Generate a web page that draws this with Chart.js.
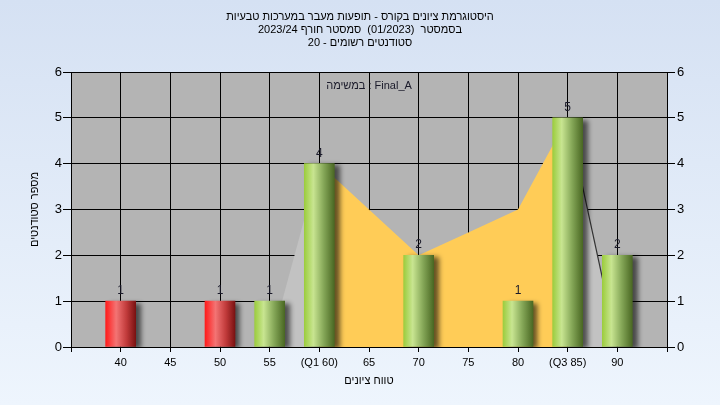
<!DOCTYPE html>
<html>
<head>
<meta charset="utf-8">
<script src="https://cdn.jsdelivr.net/npm/chart.js@4.4.1/dist/chart.umd.min.js"></script>
<style>
  html, body { margin: 0; padding: 0; }
  body { width: 720px; height: 405px; background: linear-gradient(to bottom, #d5e1f3, #eef5fd); }
  #wrap { position: relative; width: 720px; height: 405px; }
</style>
</head>
<body>
<div id="wrap"><canvas id="hist"></canvas></div>
<script>
// histogram data
const barGrades = [40, 50, 55, 60, 70, 80, 85, 90]
const barCounts = [1, 1, 1, 4, 2, 1, 5, 2]
const passGrade = 55

// distribution curve behind the bars
const curveGrades = [55, 60, 65, 70, 75, 80, 85, 90]
const curveValues = [0, 4, 3, 2, 2.5, 3, 5, 0]
const q1 = 60
const q3 = 85

const xTicks = [40, 45, 50, 55, 60, 65, 70, 75, 80, 85, 90]
const xTickLabels = ['40', '45', '50', '55', '(Q1 60)', '65', '70', '75', '80', '(Q3 85)', '90']

const titleLines = [
  'היסטוגרמת ציונים בקורס - תופעות מעבר במערכות טבעיות',
  'בסמסטר  (01/2023)  סמסטר חורף 2023/24',
  'סטודנטים רשומים - 20'
]
const taskLabel = 'במשימה : Final_A'

const FONT = '"Liberation Sans", Arial, sans-serif'

const pts = (xs, ys, keep) => xs.map((x, i) => ({x: x, y: ys[i]})).filter(p => keep(p.x))

const barColor = (ctx) => {
  const chart = ctx.chart
  if (!chart.chartArea || !ctx.parsed) return '#9fcf40'
  const cx = chart.scales.x.getPixelForValue(ctx.parsed.x)
  const g = chart.ctx.createLinearGradient(cx - 15, 0, cx + 15, 0)
  if (ctx.parsed.x < passGrade) {
    g.addColorStop(0, '#ff1c1c')
    g.addColorStop(0.35, '#f37474')
    g.addColorStop(0.7, '#c03a3a')
    g.addColorStop(1, '#7a1212')
  } else {
    g.addColorStop(0, '#9ccd3e')
    g.addColorStop(0.3, '#c8e591')
    g.addColorStop(0.65, '#84a657')
    g.addColorStop(1, '#4a6823')
  }
  return g
}

const plotBg = {
  id: 'plotBg',
  beforeDraw(chart) {
    const {ctx, chartArea: a} = chart
    ctx.save()
    ctx.fillStyle = '#b4b4b4'
    ctx.fillRect(a.left, a.top, a.right - a.left, a.bottom - a.top)
    ctx.restore()
  }
}

const barShadow = {
  id: 'barShadow',
  beforeDatasetDraw(chart, args) {
    if (args.meta.type !== 'bar') return
    const ctx = chart.ctx
    ctx.save()
    ctx.shadowColor = 'rgba(0,0,0,0.6)'
    ctx.shadowOffsetX = 5
    ctx.shadowOffsetY = 2
    ctx.shadowBlur = 5
  },
  afterDatasetDraw(chart, args) {
    if (args.meta.type !== 'bar') return
    chart.ctx.restore()
  }
}

const labels = {
  id: 'labels',
  afterDatasetsDraw(chart) {
    const ctx = chart.ctx
    const a = chart.chartArea
    ctx.save()
    ctx.fillStyle = '#1a1a2a'
    ctx.font = '12px ' + FONT
    ctx.textAlign = 'center'
    ctx.textBaseline = 'alphabetic'
    chart.data.datasets.forEach((ds, i) => {
      const meta = chart.getDatasetMeta(i)
      if (meta.type !== 'bar') return
      meta.data.forEach((bar, j) => {
        ctx.fillText(String(barCounts[j]), bar.x, bar.y - 7)
      })
    })
    ctx.font = '11px ' + FONT
    ctx.textBaseline = 'middle'
    ctx.fillText(taskLabel, (a.left + a.right) / 2, a.top + 14)
    ctx.restore()
  }
}

new Chart(document.getElementById('hist'), {
  type: 'bar',
  data: {
    datasets: [
      {
        type: 'bar',
        data: pts(barGrades, barCounts, () => true),
        backgroundColor: barColor,
        borderWidth: 0,
        barThickness: 30,
        yAxisID: 'y',
        order: 0
      },
      {
        type: 'line',
        data: pts(curveGrades, curveValues, x => x >= q1 && x <= q3),
        backgroundColor: '#ffcc57',
        borderWidth: 0,
        pointRadius: 0,
        fill: 'origin',
        tension: 0,
        yAxisID: 'y',
        order: 1
      },
      {
        type: 'line',
        data: pts(curveGrades, curveValues, x => x <= q1),
        backgroundColor: '#c2c2c2',
        borderWidth: 0,
        pointRadius: 0,
        fill: 'origin',
        tension: 0,
        yAxisID: 'y',
        order: 1
      },
      {
        type: 'line',
        data: pts(curveGrades, curveValues, x => x >= q3),
        backgroundColor: '#c2c2c2',
        borderColor: '#333333',
        borderWidth: 1.2,
        pointRadius: 0,
        fill: 'origin',
        tension: 0,
        yAxisID: 'y',
        order: 1
      }
    ]
  },
  options: {
    responsive: true,
    maintainAspectRatio: false,
    animation: false,
    layout: {padding: 0},
    plugins: {
      legend: {display: false},
      tooltip: {enabled: false},
      title: {
        display: true,
        text: titleLines,
        color: '#000',
        font: {family: FONT, size: 11, weight: 'normal', lineHeight: 1.2},
        padding: {top: 10, bottom: 22.4}
      }
    },
    scales: {
      x: {
        type: 'linear',
        min: 35,
        max: 95,
        offset: false,
        afterFit: s => { s.height = 58 },
        ticks: {
          stepSize: 5,
          autoSkip: false,
          maxRotation: 0,
          padding: 4,
          color: '#000',
          font: {family: FONT, size: 11},
          callback: v => {
            const i = xTicks.indexOf(v)
            return i < 0 ? '' : xTickLabels[i]
          }
        },
        grid: {color: '#000', tickColor: '#000', tickLength: 5, offset: false},
        border: {color: '#000'},
        title: {
          display: true,
          text: 'טווח ציונים',
          color: '#000',
          font: {family: FONT, size: 11},
          padding: {top: 4, bottom: 17}
        }
      },
      y: {
        position: 'left',
        min: 0,
        max: 6,
        afterFit: s => { s.width = 71 },
        ticks: {stepSize: 1, padding: 1, color: '#000', font: {family: FONT, size: 13}},
        grid: {color: '#000', tickColor: '#000', tickLength: 8},
        border: {color: '#000'},
        title: {
          display: true,
          text: 'מספר סטודנטים',
          color: '#000',
          font: {family: FONT, size: 11},
          padding: {top: 28, bottom: 0}
        }
      },
      y2: {
        position: 'right',
        min: 0,
        max: 6,
        afterFit: s => { s.width = 53 },
        ticks: {stepSize: 1, padding: 2, color: '#000', font: {family: FONT, size: 13}},
        grid: {drawOnChartArea: false, color: '#000', tickColor: '#000', tickLength: 8},
        border: {color: '#000'}
      }
    }
  },
  plugins: [plotBg, barShadow, labels]
})
</script>
</body>
</html>
